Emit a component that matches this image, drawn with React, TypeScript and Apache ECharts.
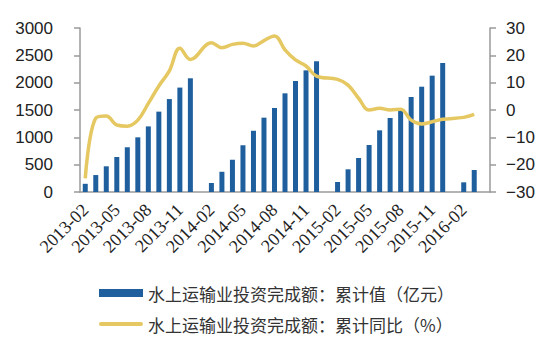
import React, { useEffect, useRef } from "react";
import * as echarts from "echarts";

const months: string[] = [
  "2013-02", "2013-03", "2013-04", "2013-05", "2013-06", "2013-07", "2013-08", "2013-09", "2013-10", "2013-11", "2013-12",
  "2014-01", "2014-02", "2014-03", "2014-04", "2014-05", "2014-06", "2014-07", "2014-08", "2014-09", "2014-10", "2014-11", "2014-12",
  "2015-01", "2015-02", "2015-03", "2015-04", "2015-05", "2015-06", "2015-07", "2015-08", "2015-09", "2015-10", "2015-11", "2015-12",
  "2016-01", "2016-02", "2016-03", "2016-04",
];

const cumulativeValue: (number | null)[] = [
  150, 310, 470, 640, 820, 1000, 1200, 1470, 1700, 1910, 2080,
  null, 165, 370, 590, 855, 1120, 1360, 1537, 1805, 2030, 2225, 2390,
  null, 183, 415, 622, 860, 1128, 1354, 1500, 1738, 1926, 2128, 2360,
  null, 177, 402, null,
];

const cumulativeYoY: (number | null)[] = [
  -25.0, -3.0, -2.2, -5.5, -5.9, -3.7, 2.4, 8.8, 14.3, 22.6, 18.5,
  null, 24.6, 22.8, 24.0, 24.4, 23.4, 25.4, 27.1, 22.0, 18.3, 16.1, 12.4,
  null, 11.2, 9.1, 4.3, 0.0, 0.6, 0.0, 0.3, -3.7, -5.1, -4.3, -3.4,
  null, -2.7, -1.6, null,
];

const seriesNames = [
  "水上运输业投资完成额：累计值（亿元）",
  "水上运输业投资完成额：累计同比（%）",
];

const BLUE = "#1F5F9E";
const YELLOW = "#E6C862";
const AXIS = "#9A9A9A";

export default function App() {
  const ref = useRef<HTMLDivElement>(null);
  useEffect(() => {
    if (!ref.current) return;
    const chart = echarts.init(ref.current, undefined, { renderer: "svg" });
    chart.setOption({
      animation: false,
      backgroundColor: "#ffffff",
      grid: { left: 80, right: 56, top: 28, bottom: 165, containLabel: false },
      legend: {
        orient: "vertical",
        left: 94,
        top: 279,
        itemWidth: 44,
        itemHeight: 8,
        itemGap: 13,
        textStyle: {
          fontFamily: "Noto Sans CJK SC",
          fontSize: 17,
          color: "#333",
          lineHeight: 18,
        },
        data: [
          { name: seriesNames[0], icon: "rect" },
          {
            name: seriesNames[1],
            icon: "path://M2,0h40a2,2 0 0 1 0,4h-40a2,2 0 0 1 0,-4z",
            itemStyle: { color: YELLOW },
          },
        ],
      },
      xAxis: {
        type: "category",
        data: months,
        boundaryGap: true,
        axisLine: { lineStyle: { color: AXIS, width: 1.5 } },
        axisTick: { interval: 2, length: 5, lineStyle: { color: AXIS, width: 1.5 } },
        axisLabel: {
          interval: 2,
          rotate: 45,
          margin: 15,
          fontFamily: "Liberation Serif",
          fontSize: 18,
          color: "#222",
        },
      },
      yAxis: [
        {
          type: "value",
          min: 0,
          max: 3000,
          interval: 500,
          splitLine: { show: false },
          axisLine: { show: true, lineStyle: { color: AXIS, width: 1.5 } },
          axisTick: { show: true, length: 6, lineStyle: { color: AXIS, width: 1.5 } },
          axisLabel: {
            margin: 27,
            fontFamily: "Liberation Sans",
            fontSize: 17,
            color: "#222",
            formatter: (v: number) => String(v),
          },
        },
        {
          type: "value",
          min: -30,
          max: 30,
          interval: 10,
          position: "right",
          splitLine: { show: false },
          axisLine: { show: true, lineStyle: { color: AXIS, width: 1.5 } },
          axisTick: { show: true, length: 6, lineStyle: { color: AXIS, width: 1.5 } },
          axisLabel: {
            margin: 16,
            fontFamily: "Liberation Sans",
            fontSize: 17,
            color: "#222",
            formatter: (v: number) => (v < 0 ? "\u2212" + Math.abs(v) : String(v)),
          },
        },
      ],
      series: [
        {
          name: seriesNames[0],
          type: "bar",
          yAxisIndex: 0,
          data: cumulativeValue,
          barWidth: 5,
          itemStyle: { color: BLUE },
        },
        {
          name: seriesNames[1],
          type: "line",
          yAxisIndex: 1,
          data: cumulativeYoY,
          connectNulls: true,
          smooth: 0.4,
          symbol: "none",
          showSymbol: false,
          itemStyle: { color: YELLOW },
          lineStyle: { color: YELLOW, width: 3.5 },
        },
      ],
    });
    return () => chart.dispose();
  }, []);
  return (
    <div
      ref={ref}
      style={{ position: "fixed", left: 0, top: 0, width: 546, height: 357 }}
    />
  );
}
